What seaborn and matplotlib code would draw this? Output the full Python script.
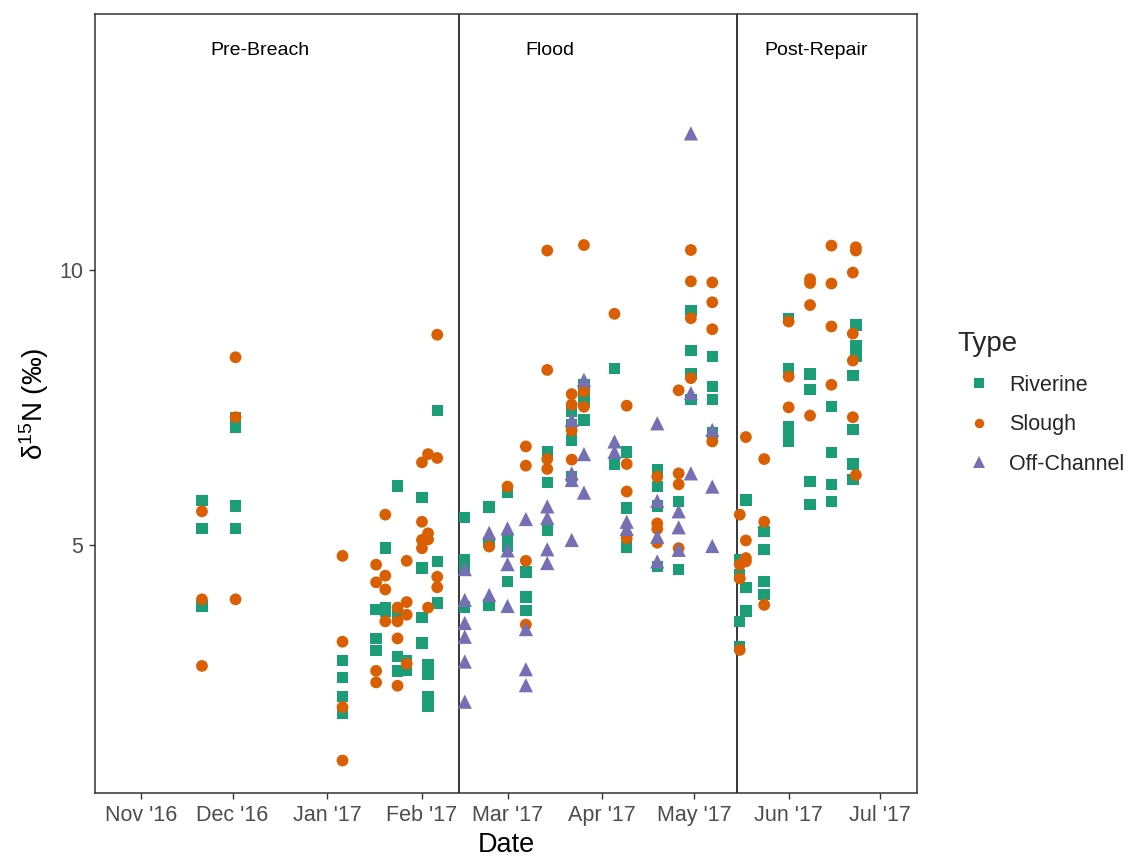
import matplotlib
matplotlib.use("Agg")
import matplotlib.pyplot as plt
import matplotlib.dates as mdates
import numpy as np
import pandas as pd
import seaborn as sns

# ---- data: sampling date and d15N value for each sample type ----
riverine_dates = (
    ["2016-11-21"] * 3 + ["2016-12-02"] * 4 + ["2017-01-06"] * 4 + ["2017-01-17"] * 3
    + ["2017-01-20"] * 3 + ["2017-01-24"] * 4 + ["2017-01-27"] * 2 + ["2017-02-01"] * 4
    + ["2017-02-03"] * 4 + ["2017-02-06"] * 3
    + ["2017-02-15"] * 4 + ["2017-02-23"] * 3 + ["2017-03-01"] * 4 + ["2017-03-07"] * 3
    + ["2017-03-14"] * 3 + ["2017-03-22"] * 4 + ["2017-03-26"] * 4 + ["2017-04-05"] * 2
    + ["2017-04-09"] * 3 + ["2017-04-19"] * 4 + ["2017-04-26"] * 2 + ["2017-04-30"] * 4
    + ["2017-05-07"] * 4
    + ["2017-05-16"] * 4 + ["2017-05-18"] * 3 + ["2017-05-24"] * 4 + ["2017-06-01"] * 5
    + ["2017-06-08"] * 4 + ["2017-06-15"] * 4 + ["2017-06-22"] * 4 + ["2017-06-23"] * 4
)
riverine_d15n = [
    5.81, 5.30, 3.89,
    7.32, 7.13, 5.71, 5.30,
    2.90, 2.59, 2.24, 1.94,
    3.83, 3.30, 3.08,
    4.94, 3.85, 3.80,
    6.07, 3.76, 2.97, 2.71,
    2.90, 2.72,
    5.86, 4.58, 3.68, 3.22,
    2.82, 2.64, 2.24, 2.06,
    7.44, 4.70, 3.94,
    5.50, 4.73, 4.62, 3.87,
    5.69, 5.04, 3.91,
    5.95, 5.12, 4.97, 4.33,
    4.51, 4.05, 3.81,
    6.70, 6.13, 5.27,
    7.42, 7.18, 6.91, 6.24,
    7.91, 7.73, 7.61, 7.27,
    8.21, 6.47,
    6.69, 5.67, 4.96,
    6.36, 6.06, 5.71, 4.61,
    5.79, 4.55,
    9.26, 8.53, 8.11, 7.64,
    8.42, 7.88, 7.64, 7.03,
    4.73, 4.45, 3.61, 3.15,
    5.82, 4.23, 3.80,
    5.24, 4.92, 4.33, 4.10,
    9.12, 8.21, 7.15, 7.00, 6.88,
    8.11, 7.82, 6.15, 5.73,
    7.52, 6.68, 6.10, 5.79,
    8.08, 7.10, 6.47, 6.19,
    9.00, 8.62, 8.52, 8.42,
]

slough_dates = (
    ["2016-11-21"] * 3 + ["2016-12-02"] * 3 + ["2017-01-06"] * 4 + ["2017-01-17"] * 4
    + ["2017-01-20"] * 4 + ["2017-01-24"] * 4 + ["2017-01-27"] * 4 + ["2017-02-01"] * 4
    + ["2017-02-03"] * 4 + ["2017-02-06"] * 4
    + ["2017-02-23"] * 1 + ["2017-03-01"] * 1 + ["2017-03-07"] * 4 + ["2017-03-14"] * 4
    + ["2017-03-22"] * 4 + ["2017-03-26"] * 3 + ["2017-04-05"] * 1 + ["2017-04-09"] * 4
    + ["2017-04-19"] * 4 + ["2017-04-26"] * 4 + ["2017-04-30"] * 4 + ["2017-05-07"] * 4
    + ["2017-05-16"] * 4 + ["2017-05-18"] * 4 + ["2017-05-24"] * 3 + ["2017-06-01"] * 3
    + ["2017-06-08"] * 4 + ["2017-06-15"] * 4 + ["2017-06-22"] * 4 + ["2017-06-23"] * 3
)
slough_d15n = [
    5.61, 4.01, 2.80,
    8.41, 7.32, 4.01,
    4.80, 3.24, 2.05, 1.08,
    4.64, 4.32, 2.71, 2.50,
    5.55, 4.44, 4.19, 3.61,
    3.86, 3.61, 3.30, 2.44,
    4.71, 3.96, 3.73, 2.84,
    6.50, 5.42, 5.09, 4.94,
    6.65, 5.21, 5.10, 3.86,
    8.82, 6.58, 4.42, 4.23,
    4.97,
    6.06,
    6.79, 6.44, 4.71, 3.55,
    10.35, 8.18, 6.56, 6.38,
    7.74, 7.55, 7.08, 6.55,
    10.45, 7.79, 7.51,
    9.20,
    7.53, 6.47, 5.97, 5.12,
    6.24, 5.39, 5.29, 5.04,
    7.81, 6.30, 6.10, 4.94,
    10.36, 9.79, 9.12, 8.03,
    9.77, 9.41, 8.92, 6.88,
    5.55, 4.64, 4.39, 3.09,
    6.96, 5.08, 4.76, 4.70,
    6.56, 5.42, 3.91,
    9.06, 8.06, 7.50,
    9.83, 9.76, 9.36, 7.35,
    10.44, 9.75, 8.97, 7.91,
    9.95, 8.84, 8.35, 7.32,
    10.41, 10.35, 6.27,
]

offchannel_dates = (
    ["2017-02-15"] * 6 + ["2017-02-23"] * 2 + ["2017-03-01"] * 4 + ["2017-03-07"] * 4
    + ["2017-03-14"] * 4 + ["2017-03-22"] * 4 + ["2017-03-26"] * 3 + ["2017-04-05"] * 2
    + ["2017-04-09"] * 2 + ["2017-04-19"] * 4 + ["2017-04-26"] * 3 + ["2017-04-30"] * 3
    + ["2017-05-07"] * 3
)
offchannel_d15n = [
    4.56, 4.00, 3.58, 3.33, 2.88, 2.15,
    5.22, 4.09,
    5.30, 4.90, 4.65, 3.89,
    5.47, 3.47, 2.74, 2.45,
    5.70, 5.49, 4.92, 4.67,
    7.27, 6.30, 6.18, 5.09,
    8.00, 6.65, 5.95,
    6.88, 6.69,
    5.42, 5.29,
    7.21, 5.80, 5.15, 4.70,
    5.61, 5.32, 4.91,
    12.48, 7.76, 6.30,
    7.09, 6.06, 4.98,
]

type_names = ["Riverine", "Slough", "Off-Channel"]
type_colors = ["#1B9E77", "#D95F02", "#7570B3"]
type_markers = ["s", "o", "^"]
type_sizes = [68, 72, 105]

# period boundaries (levee breach and repair) and period labels
breach_date = "2017-02-13"
repair_date = "2017-05-15"
period_labels = ["Pre-Breach", "Flood", "Post-Repair"]
period_label_dates = ["2016-12-10", "2017-03-15", "2017-06-10"]

df = pd.concat([
    pd.DataFrame({"Date": pd.to_datetime(riverine_dates), "d15N": riverine_d15n, "Type": "Riverine"}),
    pd.DataFrame({"Date": pd.to_datetime(slough_dates), "d15N": slough_d15n, "Type": "Slough"}),
    pd.DataFrame({"Date": pd.to_datetime(offchannel_dates), "d15N": offchannel_d15n, "Type": "Off-Channel"}),
], ignore_index=True)

sns.set_theme(style="white")
plt.rcParams["font.family"] = ["Liberation Sans", "DejaVu Sans"]
plt.rcParams["mathtext.fontset"] = "custom"
plt.rcParams["mathtext.rm"] = "Liberation Sans"
plt.rcParams["mathtext.it"] = "Liberation Sans:italic"

W, H = 1133, 859
fig = plt.figure(figsize=(W / 100, H / 100), dpi=100)
ax = fig.add_axes([95 / W, 1 - 793 / H, (917 - 95) / W, (793 - 14) / H])

sns.scatterplot(
    data=df, x="Date", y="d15N", hue="Type", style="Type", size="Type",
    hue_order=type_names, style_order=type_names, size_order=type_names,
    palette=dict(zip(type_names, type_colors)),
    markers=dict(zip(type_names, type_markers)),
    sizes=dict(zip(type_names, type_sizes)),
    linewidth=0, alpha=1, ax=ax, zorder=3,
)

for d in (breach_date, repair_date):
    ax.axvline(pd.Timestamp(d), color="black", lw=1.1, zorder=2)

for lab, d in zip(period_labels, period_label_dates):
    ax.text(pd.Timestamp(d), 13.98, lab, ha="center", va="center", fontsize=14, color="black")

ax.set_xlim(pd.Timestamp("2016-10-17"), pd.Timestamp("2017-07-13"))
ax.set_ylim(0.49, 14.65)
ax.set_yticks([5, 10])
ax.xaxis.set_major_locator(mdates.MonthLocator())
ax.xaxis.set_major_formatter(mdates.DateFormatter("%b '%y"))

ax.tick_params(axis="both", which="major", direction="out", length=4.5, width=1,
               color="#333333", labelcolor="#4d4d4d", labelsize=15.5, pad=4,
               bottom=True, left=True)
for sp in ax.spines.values():
    sp.set_visible(True)
    sp.set_color("#333333")
    sp.set_linewidth(1.1)
ax.grid(False)

ax.set_xlabel("Date", fontsize=19.5, color="black", labelpad=4.5)
ax.set_ylabel(r"δ$^{15}$N (‰)", fontsize=20, color="black", labelpad=6)

handles, labels = ax.get_legend_handles_labels()
ax.get_legend().remove()
leg = fig.legend(handles, labels, title="Type", loc="upper left",
                 bbox_to_anchor=(949 / W, 1 - 322 / H), frameon=False,
                 fontsize=15.5, title_fontsize=20, labelspacing=0.85,
                 handletextpad=0.4, markerscale=0.8, borderaxespad=0)
leg._legend_box.align = "left"

fig.savefig("out.png", dpi=100)
